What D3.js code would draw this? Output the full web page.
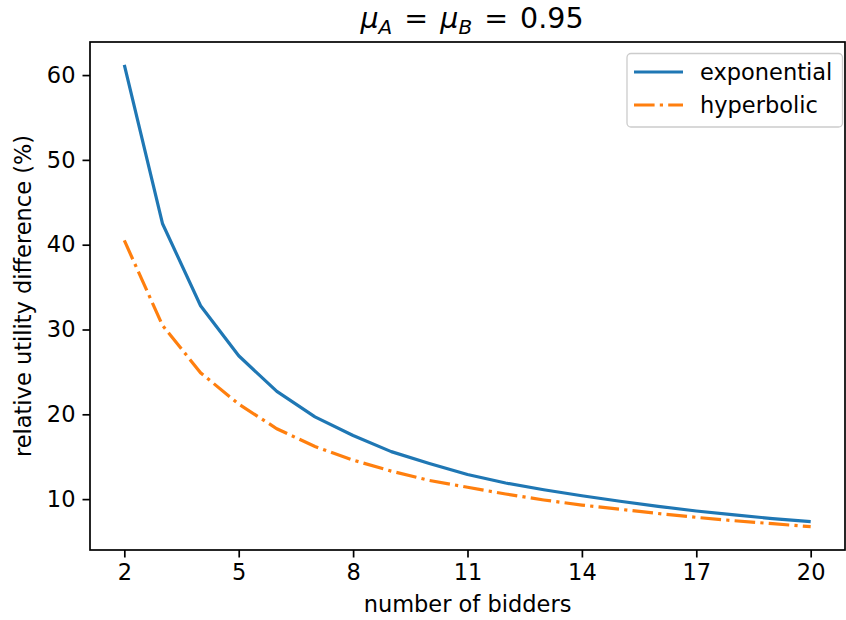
<!DOCTYPE html>
<html><head><meta charset="utf-8">
<script src="https://cdn.jsdelivr.net/npm/d3@7"></script>
<style>html,body{margin:0;padding:0;background:#fff;overflow:hidden;width:846px;height:620px}svg{display:block;font-family:"DejaVu Sans",sans-serif}</style>
</head><body><svg id="c" width="846" height="620" viewBox="0 0 846 620"></svg>
<script>
const bidders = [2,3,4,5,6,7,8,9,10,11,12,13,14,15,16,17,18,19,20];
const exponential = [61.2,42.5,32.8,26.9,22.7,19.7,17.5,15.6,14.2,12.9,11.9,11.1,10.4,9.75,9.15,8.6,8.15,7.7,7.35];
const hyperbolic = [40.5,30.5,24.9,21.2,18.3,16.2,14.6,13.3,12.2,11.4,10.6,9.9,9.3,8.8,8.3,7.85,7.45,7.1,6.75];
const xTicks = [2,5,8,11,14,17,20];
const yTicks = [10,20,30,40,50,60];
const seriesNames = ["exponential","hyperbolic"];
const colors = ["#1f77b4","#ff7f0e"];

const FS = 22.5;
const LW = 3.2;
const DASH = "20.6,5.2,3.2,5.2";
const svg = d3.select("#c");
const L=90,R=845,T=42,B=550;
const x = d3.scaleLinear().domain([1.1,20.9]).range([L,R]);
const y = d3.scaleLinear().domain([4.0,63.9]).range([B,T]);

const xa = svg.append("g").attr("transform",`translate(0,${B})`)
  .call(d3.axisBottom(x).tickValues(xTicks).tickSize(7.5).tickPadding(7));
const ya = svg.append("g").attr("transform",`translate(${L},0)`)
  .call(d3.axisLeft(y).tickValues(yTicks).tickSize(7.5).tickPadding(7));
[xa,ya].forEach(a=>{
  a.attr("font-size",null).attr("font-family",null);
  a.select(".domain").remove();
  a.selectAll(".tick line").attr("stroke","#000").attr("stroke-width",1.7);
  a.selectAll(".tick text").attr("fill","#000").style("font-size",FS+"px").style("font-family","DejaVu Sans");
});

const line = d3.line().x((d,i)=>x(bidders[i])).y(d=>y(d));
svg.append("path").datum(exponential).attr("d",line).attr("fill","none")
  .attr("stroke",colors[0]).attr("stroke-width",LW).attr("stroke-linejoin","round");
svg.append("path").datum(hyperbolic).attr("d",line).attr("fill","none")
  .attr("stroke",colors[1]).attr("stroke-width",LW).attr("stroke-dasharray",DASH);

svg.append("rect").attr("x",L).attr("y",T).attr("width",R-L).attr("height",B-T)
  .attr("fill","none").attr("stroke","#000").attr("stroke-width",1.7);

// title
const t = svg.append("text").attr("x",472).attr("y",28).attr("text-anchor","middle")
  .style("font-size","28.5px").attr("fill","#000");
t.append("tspan").style("font-style","italic").text("μ");
t.append("tspan").style("font-style","italic").style("font-size","20px").attr("dy",5.5).text("A");
t.append("tspan").attr("dy",-5.5).attr("dx",3).text(" = ");
t.append("tspan").style("font-style","italic").attr("dx",3).text("μ");
t.append("tspan").style("font-style","italic").style("font-size","20px").attr("dy",5.5).text("B");
t.append("tspan").attr("dy",-5.5).attr("dx",3).text(" =");
t.append("tspan").attr("dx",3).text(" 0.95");

svg.append("text").attr("x",(L+R)/2).attr("y",612).attr("text-anchor","middle")
  .style("font-size",FS+"px").text("number of bidders");
svg.append("text").attr("transform",`translate(31,${(T+B)/2}) rotate(-90)`).attr("text-anchor","middle")
  .style("font-size",FS+"px").text("relative utility difference (%)");

// legend
const lg = svg.append("g");
lg.append("rect").attr("x",627).attr("y",53.5).attr("width",215.5).attr("height",73.5).attr("rx",4)
  .attr("fill","#fff").attr("fill-opacity",0.8).attr("stroke","#ccc").attr("stroke-width",1.3);
seriesNames.forEach((n,i)=>{
  const yy = 72 + i*33;
  lg.append("line").attr("x1",634).attr("x2",683).attr("y1",yy).attr("y2",yy)
    .attr("stroke",colors[i]).attr("stroke-width",LW)
    .attr("stroke-dasharray", i===1 ? DASH : null);
  lg.append("text").attr("x",700).attr("y",yy+7.5).style("font-size",FS+"px").text(n);
});
</script></body></html>
